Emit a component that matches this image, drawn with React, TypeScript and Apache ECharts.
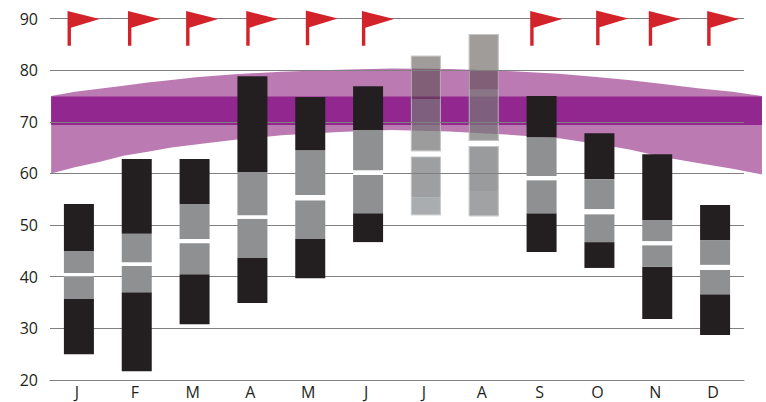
import React, { useEffect, useRef } from "react";
import * as echarts from "echarts";

const months = ["J", "F", "M", "A", "M", "J", "J", "A", "S", "O", "N", "D"];
const yTicks = { min: 20, max: 90, step: 10 };

// Bar levels per month, bottom to top
const lows = [25.0, 21.7, 30.8, 34.9, 39.7, 46.7, 51.9, 51.7, 44.8, 41.7, 31.8, 28.7];
const lowerQuart = [35.7, 37.0, 40.5, 43.6, 47.3, 52.3, 55.4, 56.6, 52.3, 46.7, 41.9, 36.6];
const gapBottom = [40.1, 42.1, 46.5, 51.2, 54.8, 59.7, 63.3, 65.3, 58.7, 52.1, 46.1, 41.3];
const gapTop = [40.7, 42.8, 47.3, 51.9, 55.8, 60.6, 64.3, 66.3, 59.5, 53.1, 46.9, 42.3];
const upperQuart = [45.0, 48.3, 54.1, 60.3, 64.5, 68.4, 74.4, 76.3, 67.0, 58.9, 51.0, 47.1];
const highs = [54.1, 62.8, 62.8, 78.8, 74.8, 76.9, 82.8, 87.0, 75.0, 67.8, 63.7, 53.9];
const fadedMonths = [6, 7];

// Seasonal band, x in month units
const bandX = [0.02, 0.43, 0.85, 1.27, 1.69, 2.1, 2.52, 3.2, 4.0, 5.0, 5.9, 6.9, 7.8, 8.8, 9.4, 10.0, 10.6, 11.2, 11.8, 12.31];
const bandUpper = [75.0, 75.8, 76.4, 77.0, 77.6, 78.1, 78.6, 79.2, 79.7, 80.1, 80.3, 80.2, 79.9, 79.3, 78.7, 78.1, 77.3, 76.5, 75.8, 75.0];
const bandLower = [60.0, 61.2, 62.2, 63.4, 64.2, 65.0, 65.6, 66.5, 67.4, 68.0, 68.4, 68.1, 67.6, 66.8, 65.8, 64.7, 63.2, 62.0, 60.9, 59.8];
const coreBand = [69.4, 74.9];

// Flags: position along the month scale and flag centre on the value axis
const flagX = [0.58, 1.625, 2.63, 3.67, 4.7, 5.67, 8.58, 9.72, 10.63, 11.64];
const flagY = [88.1, 88.1, 88.1, 88.1, 88.2, 88.1, 88.1, 88.2, 88.1, 88.1];

const FLAG = "path://M0 0 L32 8 L3.4 16.7 L3.4 34.7 L0 34.7 Z";
const INK = "#231f20";
const GREY = "#8f9091";
const GRIDLINE = "#808080";

const isFaded = (i: number) => fadedMonths.includes(i);
const diff = (a: number[], b: number[]) => a.map((v, i) => +(v - b[i]).toFixed(2));

function barSeries(name: string, stack: string, values: number[], z: number, style: (i: number) => any, keep: (i: number) => boolean) {
  return {
    type: "bar",
    name,
    stack,
    z,
    barWidth: 30,
    barGap: "-100%",
    silent: true,
    data: values.map((v, i) => (keep(i) ? { value: v, itemStyle: style(i) } : null)),
  };
}

const none = { color: "transparent" };
const white = { color: "#fff" };
const fadedTop = { color: "rgba(78,72,68,0.54)" };
const fadedMid = { color: "rgba(118,118,118,0.72)" };
const fadedLow = (i: number) => ({ color: i === 6 ? "#9e9fa1" : "#9a9b9d" });
const fadedBase = (i: number) => ({ color: i === 6 ? "#a9adaf" : "#a1a2a4" });
const outline = { color: "transparent", borderColor: "rgba(225,225,225,0.6)", borderWidth: 1 };

export default function App() {
  const ref = useRef<HTMLDivElement>(null);
  useEffect(() => {
    const chart = echarts.init(ref.current!, null, { renderer: "svg" });
    const solid = (i: number) => !isFaded(i);
    const segs = [
      ["base", lows],
      ["low", diff(lowerQuart, lows)],
      ["q1", diff(gapBottom, lowerQuart)],
      ["gap", diff(gapTop, gapBottom)],
      ["q3", diff(upperQuart, gapTop)],
      ["high", diff(highs, upperQuart)],
    ] as [string, number[]][];
    const solidStyles = [none, { color: INK }, { color: GREY }, white, { color: GREY }, { color: INK }];
    const fadedStyles: ((i: number) => any)[] = [
      () => none,
      fadedBase,
      fadedLow,
      () => white,
      () => fadedMid,
      () => fadedTop,
    ];

    chart.setOption({
      animation: false,
      grid: { left: 50, top: 18.5, width: 694, height: 361.5, containLabel: false },
      xAxis: [
        {
          type: "category",
          data: months,
          boundaryGap: true,
          z: 3,
          axisTick: { show: false },
          axisLine: { lineStyle: { color: GRIDLINE, width: 1.2 } },
          axisLabel: { color: INK, fontFamily: "Open Sans", fontSize: 16, margin: 4, padding: [0, 4, 0, 0] },
        },
        { type: "value", show: false, min: 0, max: 12, splitLine: { show: false } },
      ],
      yAxis: {
        type: "value",
        min: yTicks.min,
        max: yTicks.max,
        interval: yTicks.step,
        z: 3,
        axisLine: { show: false },
        axisTick: { show: false },
        axisLabel: { color: INK, fontFamily: "Open Sans", fontSize: 16, margin: 12 },
        splitLine: { lineStyle: { color: GRIDLINE, width: 1.2 } },
      },
      series: [
        {
          type: "custom",
          xAxisIndex: 1,
          yAxisIndex: 0,
          z: 1,
          silent: true,
          clip: false,
          data: [[bandX[0], coreBand[0]]],
          encode: { x: 0, y: 1 },
          renderItem: (_p: any, api: any) => {
            const top = bandX.map((x, i) => api.coord([x, bandUpper[i]]));
            const bottom = bandX.map((x, i) => api.coord([x, bandLower[i]])).reverse();
            const x0 = bandX[0];
            const x1 = bandX[bandX.length - 1];
            return {
              type: "group",
              children: [
                { type: "polygon", shape: { points: [...top, ...bottom] }, style: { fill: "#bc7ab3" } },
                {
                  type: "polygon",
                  shape: {
                    points: [
                      api.coord([x0, coreBand[1]]),
                      api.coord([x1, coreBand[1]]),
                      api.coord([x1, coreBand[0]]),
                      api.coord([x0, coreBand[0]]),
                    ],
                  },
                  style: { fill: "#92278f" },
                },
              ],
            };
          },
        },
        ...segs.map(([n, v], k) => barSeries("faded-" + n, "faded", v, 2, fadedStyles[k], isFaded)),
        barSeries("outline-base", "outline", lows, 2, () => none, isFaded),
        barSeries("outline-low", "outline", diff(gapBottom, lows), 2, () => outline, isFaded),
        barSeries("outline-gap", "outline", diff(gapTop, gapBottom), 2, () => none, isFaded),
        barSeries("outline-high", "outline", diff(highs, gapTop), 2, () => outline, isFaded),
        ...segs.map(([n, v], k) => barSeries(n, "solid", v, 4, () => solidStyles[k], solid)),
        {
          type: "scatter",
          xAxisIndex: 1,
          yAxisIndex: 0,
          z: 5,
          silent: true,
          symbol: FLAG,
          symbolSize: [32, 34.7],
          itemStyle: { color: "#d2232a", opacity: 1 },
          data: flagX.map((x, i) => [x, flagY[i]]),
        },
      ],
    });
    return () => chart.dispose();
  }, []);
  return <div ref={ref} style={{ position: "absolute", left: 0, top: 0, width: 766, height: 402 }} />;
}
